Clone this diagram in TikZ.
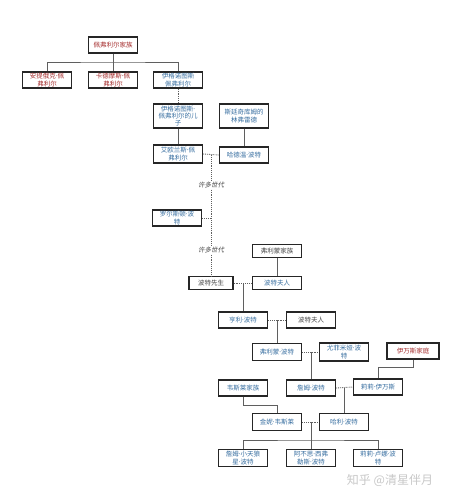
\documentclass[tikz,border=0pt]{standalone}
\usepackage{fontspec}
\newfontfamily\cjk{Noto Sans CJK SC}
\newfontfamily\cjkit[FakeSlant=0.2]{Noto Sans CJK SC}
\newfontfamily\latn{Noto Sans}
\newcommand{\dt}{{\latn ·}}
\usepackage{tikz}
\usetikzlibrary{positioning,calc}
\definecolor{hpred}{RGB}{165,45,45}
\definecolor{hpblue}{RGB}{55,110,160}
\definecolor{hpgray}{RGB}{70,70,70}
\definecolor{hpline}{RGB}{95,95,95}

\begin{document}
\begin{tikzpicture}[x=1pt, y=-1pt,
        box/.style={rectangle, draw=black!85, line width=1.3pt, fill=white, minimum width=49pt,
          minimum height=16pt, inner sep=1.5pt, align=center, font=\cjk\fontsize{6.5}{7.2}\selectfont},
        red/.style={box, text=hpred},
        blue/.style={box, text=hpblue},
        grey/.style={box, text=hpgray},
        gen/.style={font=\cjkit\fontsize{6.5}{7.2}\selectfont, text=hpgray, inner sep=1.5pt},
        line/.style={draw=hpline, line width=0.8pt},
        dots/.style={draw=hpline, line width=0.9pt, densely dotted}
      ]
        \useasboundingbox (0,0) rectangle (453,500);

        % Peverell
        \node[red]  (pev) at (113,45)  {佩弗利尔家族};
        \node[red]  (ant) at (47,80)   {安提俄克\dt 佩\\弗利尔};
        \node[red]  (cad) at (113,80)  {卡德摩斯\dt 佩\\弗利尔};
        \node[blue] (ign) at (178,80)  {伊格诺图斯\\佩弗利尔};
        \node[blue, minimum height=24pt] (son) at (178,116) {伊格诺图斯\dt\\佩弗利尔的儿\\子};
        \node[blue, minimum height=24pt] (lin) at (244,116) {斯廷奇库姆的\\林弗雷德};
        \node[blue, minimum height=18pt] (iol) at (178,154) {艾欧兰斯\dt 佩\\弗利尔};
        \node[blue] (hdw) at (244,155) {哈德温\dt 波特};
        \node[gen]  (gen1) at (211,185) {许多世代};
        \node[blue] (ral) at (177,218) {罗尔斯顿\dt 波\\特};
        \node[gen]  (gen2) at (211,250) {许多世代};

        % Potter
        \node[grey, minimum height=13pt] (flf)  at (277,251) {弗利蒙家族};
        \node[grey, minimum height=13pt, minimum width=44pt] (mrp) at (211,283) {波特先生};
        \node[blue, minimum height=13pt] (mrsp) at (277,283) {波特夫人};
        \node[blue] (hen)  at (243,320) {亨利\dt 波特};
        \node[grey] (mrs2) at (311,320) {波特夫人};
        \node[blue, minimum height=17pt] (flm) at (277,352) {弗利蒙\dt 波特};
        \node[blue, minimum height=18pt] (eup) at (344,352) {尤菲米娅\dt 波\\特};
        \node[red, minimum width=52pt] (eva) at (413,351) {伊万斯家庭};
        \node[blue] (wea) at (243,388) {韦斯莱家族};
        \node[blue] (jam) at (311,388) {詹姆\dt 波特};
        \node[blue] (lil) at (378,387) {莉莉\dt 伊万斯};
        \node[blue, minimum height=17pt] (gin) at (277,422) {金妮\dt 韦斯莱};
        \node[blue, minimum height=17pt] (hp)  at (344,422) {哈利\dt 波特};
        \node[blue, minimum height=17pt] (js)  at (243,458) {詹姆\dt 小天狼\\星\dt 波特};
        \node[blue, minimum height=17pt] (al)  at (311,458) {阿不思\dt 西弗\\勒斯\dt 波特};
        \node[blue, minimum height=17pt] (ll)  at (378,458) {莉莉\dt 卢娜\dt 波\\特};

        \node[font=\cjk\fontsize{12}{14}\selectfont, text=black!22] (mark) at (390,480) {知乎 @清星伴月};

        \coordinate (bar1) at (113,62);
        \coordinate (m1) at (211,155);
        \coordinate (m2) at (243,283);
        \coordinate (m3) at (277,320);
        \coordinate (m4) at (311,352);
        \coordinate (m5) at (344,388);
        \coordinate (m6) at (311,422);
        \coordinate (bar2) at (311,440);

        \draw[line] (pev.south) -- (cad.north);
        \draw[line] (ant.north) |- (bar1) -| (ign.north);
        \draw[dots] (ign.south) -- (son.north);
        \draw[line] (son.south) -- (iol.north);
        \draw[line] (lin.south) -- (hdw.north);
        \draw[dots] (iol.east) -- (hdw.west);
        \draw[dots] (m1) -- (gen1.north);
        \draw[dots] (gen1.south) -- (gen2.north);
        \draw[dots] (gen2.south) -- (mrp.north);
        \draw[dots] (ral.east) -- (ral.east -| m1);
        \draw[line] (flf.south) -- (mrsp.north);
        \draw[dots] (mrp.east) -- (mrsp.west);
        \draw[line] (m2) -- (hen.north);
        \draw[dots] (hen.east) -- (mrs2.west);
        \draw[line] (m3) -- (flm.north);
        \draw[dots] (flm.east) -- (eup.west);
        \draw[line] (m4) -- (jam.north);
        \draw[line] (eva.south) -- ++(0,8) -| (lil.north);
        \draw[dots] (jam.east) -- (lil.west);
        \draw[line] (m5) -- (hp.north);
        \draw[line] (wea.south) -- ++(0,9) -| (gin.north);
        \draw[dots] (gin.east) -- (hp.west);
        \draw[line] (m6) -- (al.north);
        \draw[line] (js.north) |- (bar2) -| (ll.north);
      \end{tikzpicture}
\end{document}
